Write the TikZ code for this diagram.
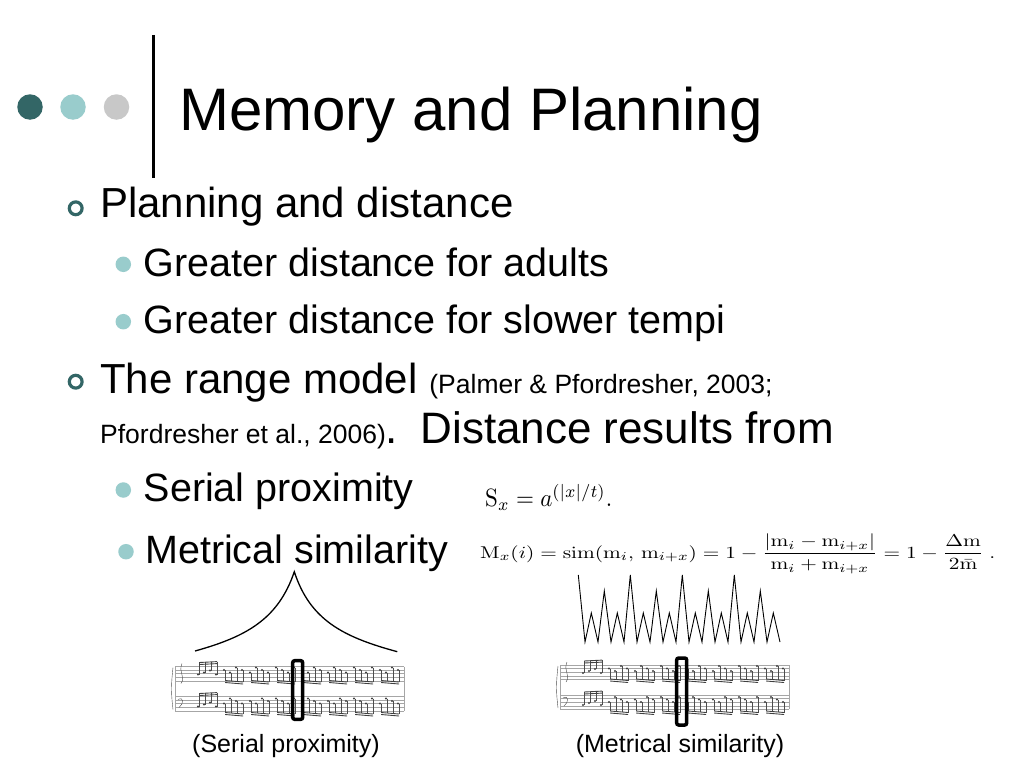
\documentclass[tikz,border=0pt]{standalone}
\usepackage{amsmath}
\usepackage[no-math]{fontspec}
\setmainfont{Liberation Sans}
\usepackage{graphicx}
\usepackage{tikz}
\definecolor{darkteal}{HTML}{336666}
\definecolor{lightteal}{HTML}{99CCCC}
\definecolor{dotgrey}{HTML}{C8C8C8}
\newcommand{\refsize}{\fontsize{26.5}{30}\selectfont}

% small grand staff, #1/#2 = left end of the top staff line
\newcommand{\musicscore}[2]{%
  \begin{scope}[shift={(#1,#2)}]
    \foreach \s in {0,3.6,7.2,10.8,14.4}{
      \draw[staffline] (0,\s) -- (229,\s);
      \draw[staffline] (0,30+\s) -- (229,30+\s);
    }
    \draw[staffline] (0,0) -- (0,44.4);
    \draw[staffline] (229,0) -- (229,44.4);
    \draw[notemark] (-2,1) .. controls (-4,20) and (-4,25) .. (-2,43);
    \draw[notemark] (7,-3) .. controls (3,6) and (11,10) .. (6,17);
    \draw[notemark] (3,33) .. controls (9,30) and (9,37) .. (4,41);
    \foreach \j in {0,...,3}{
      \fill[notehead] (23+6*\j,{8-2*mod(\j,3)}) circle (1.2);
      \draw[notemark] (24.1+6*\j,{8-2*mod(\j,3)}) -- (24.1+6*\j,{-4-0.3*\j});
      \fill[notehead] (23+6*\j,{40-2*mod(\j,3)}) circle (1.2);
      \draw[notemark] (24.1+6*\j,{40-2*mod(\j,3)}) -- (24.1+6*\j,{27-0.3*\j});
    }
    \draw[beam] (24.1,-4) -- (42.1,-4.9);
    \draw[beam] (24.1,-2) -- (42.1,-2.9);
    \draw[beam] (24.1,27) -- (42.1,26.1);
    \draw[beam] (24.1,29) -- (42.1,28.1);
    \foreach \g in {1,...,7}{
      \foreach \j in {0,...,3}{
        \fill[notehead] (23+26*\g+6*\j,{1+2.5*mod(\j+\g,3)}) circle (1.2);
        \draw[notemark] (24.1+26*\g+6*\j,{1+2.5*mod(\j+\g,3)}) -- (24.1+26*\g+6*\j,{14+0.5*\j});
        \fill[notehead] (23+26*\g+6*\j,{32+2.5*mod(\j+2*\g,3)}) circle (1.2);
        \draw[notemark] (24.1+26*\g+6*\j,{32+2.5*mod(\j+2*\g,3)}) -- (24.1+26*\g+6*\j,{46+0.5*\j});
      }
      \draw[beam] (24.1+26*\g,14) -- (42.1+26*\g,15.5);
      \draw[beam] (24.1+26*\g,16) -- (42.1+26*\g,17.5);
      \draw[beam] (24.1+26*\g,46) -- (42.1+26*\g,47.5);
      \draw[beam] (24.1+26*\g,48) -- (42.1+26*\g,49.5);
    }
  \end{scope}}

\begin{document}
\begin{tikzpicture}[
		x=1pt, y=-1pt,
		titletext/.style={anchor=base west, inner sep=0pt, font=\fontsize{60}{70}\selectfont},
		leveltext/.style={anchor=base west, inner sep=0pt, font=\fontsize{42}{50}\selectfont},
		subtext/.style={anchor=base west, inner sep=0pt, font=\fontsize{39.5}{47}\selectfont},
		ring/.style={circle, draw=darkteal, line width=3.2pt, minimum size=12.8pt, inner sep=0pt},
		subdot/.style={circle, fill=lightteal, minimum size=15.5pt, inner sep=0pt},
		bigdot/.style={circle, minimum size=25.5pt, inner sep=0pt},
		caption/.style={inner sep=0pt, font=\fontsize{25}{30}\selectfont},
		formula/.style={anchor=base west, inner sep=0pt},
		selbox/.style={draw, line width=3.5pt, rounded corners=2pt},
		staffline/.style={draw=gray!70, line width=0.5pt},
		notehead/.style={fill=gray!50!black},
		notemark/.style={draw=gray!60!black, line width=0.4pt},
		beam/.style={draw=gray!50!black, line width=0.9pt},
		curve/.style={line width=1.3pt},
		]

		\fill[white] (0,0) rectangle (1024,768);
		\useasboundingbox (0,0) rectangle (1024,768);

		% title bar
		\node[bigdot, fill=darkteal](D1) at (30,107){};
		\node[bigdot, fill=lightteal](D2) at (73,107){};
		\node[bigdot, fill=dotgrey](D3) at (116.5,107){};
		\draw[line width=3pt] (153,35) -- (153,178);
		\node[titletext](T0) at (179,130){Memory and Planning};

		% bullets
		\node[ring](R1) at (75.7,208.3){};
		\node[leveltext](P1) at (100,217){Planning and distance};
		\node[subdot](B1) at (123.3,264.3){};
		\node[subtext](P2) at (143.5,276){Greater distance for adults};
		\node[subdot](B2) at (123.3,321.7){};
		\node[subtext](P3) at (143.5,333.5){Greater distance for slower tempi};
		\node[ring](R2) at (75.7,381.7){};
		\node[leveltext](P4) at (100,393){The range model {\refsize(Palmer \& Pfordresher, 2003;}};
		\node[leveltext](P5) at (100,443.3){{\refsize Pfordresher et al., 2006)}{\fontsize{44}{50}\selectfont.\hspace{6pt} Distance results from}};
		\node[subdot](B3) at (123.3,490){};
		\node[subtext](P6) at (143.5,501.7){Serial proximity};
		\node[subdot](B4) at (126,551.7){};
		\node[subtext](P7) at (145,563.3){Metrical similarity};

		% formulas
		\node[formula](F1) at (485,506.7){\resizebox*{127pt}{26pt}{$\mathrm{S}_x = a^{(|x|/t)}.$}};
		\node[formula](F2) at (480,558){\resizebox*{515pt}{40pt}{$\displaystyle \mathrm{M}_x(i) = \mathrm{sim}(\mathrm{m}_i,\, \mathrm{m}_{i+x}) = 1 - \frac{|\mathrm{m}_i - \mathrm{m}_{i+x}|}{\mathrm{m}_i + \mathrm{m}_{i+x}} = 1 - \frac{\Delta\mathrm{m}}{2\bar{\mathrm{m}}}\;.$}};

		% serial proximity
		\draw[curve] (195,651) .. controls (245,637) and (278,620) .. (294.3,571.7)
			.. controls (310,620) and (343,637) .. (397.3,651.7);
		\musicscore{175}{666.5}
		\draw[selbox] (292.7,660.7) rectangle (302.7,719.3);
		\node[caption](C1) at (286,746){(Serial proximity)};

		% metrical similarity
		\draw[line width=0.9pt] (578.3,575) \foreach \k/\hy in {1/613,2/591,3/613,4/575,5/613,6/591,7/613,8/575,9/613,10/591,11/613,12/575,13/613,14/591,15/613}{
			-- (572+13*\k,642) -- (578.3+13*\k,\hy)} -- (780,642);
		\musicscore{560}{665}
		\draw[selbox] (676.7,658) rectangle (686.7,725);
		\node[caption](C2) at (680,746){(Metrical similarity)};
	\end{tikzpicture}
\end{document}
